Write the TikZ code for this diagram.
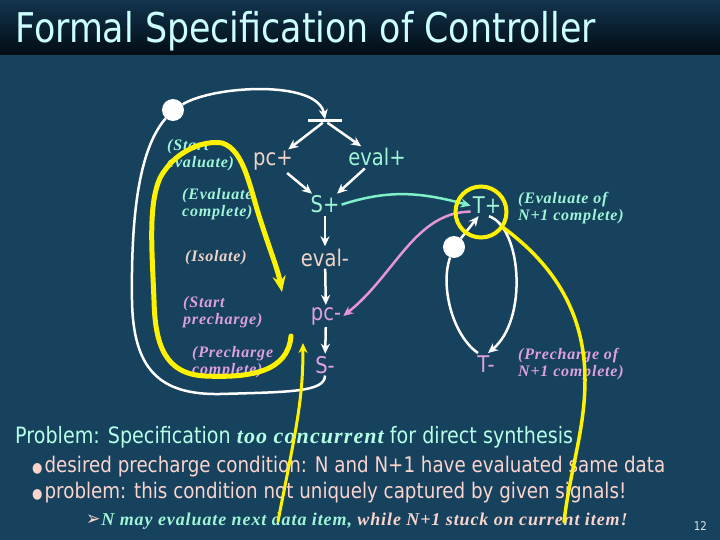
\documentclass[tikz,border=0pt]{standalone}
\usepackage{fontspec}
\setmainfont{Liberation Serif}
\setsansfont[FakeStretch=0.85]{DejaVu Sans}
\newfontfamily\labfont[LetterSpace=5]{Liberation Serif}
\usetikzlibrary{arrows.meta}
\definecolor{fond}{RGB}{22,66,94}
\definecolor{bartop}{RGB}{18,52,78}
\definecolor{barbot}{RGB}{2,12,20}
\definecolor{titletxt}{RGB}{204,255,255}
\definecolor{mint}{RGB}{160,245,215}
\definecolor{beige}{RGB}{240,212,200}
\definecolor{lilac}{RGB}{222,160,222}
\definecolor{cyanline}{RGB}{128,240,200}
\definecolor{pinkline}{RGB}{230,150,210}
\definecolor{probtxt}{RGB}{180,255,230}
\definecolor{rose}{RGB}{250,212,205}
\definecolor{numtxt}{RGB}{220,230,235}
\begin{document}
\begin{tikzpicture}[x=1pt,y=-1pt,
    sig/.style={anchor=base, inner sep=2pt, font=\sffamily\fontsize{23}{23}\selectfont},
    lab/.style={anchor=west, inner sep=0pt, align=left, font=\labfont\bfseries\itshape\fontsize{16}{16.5}\selectfont},
    wire/.style={white, line width=2.5pt},
    arr/.style={wire, -{Stealth[length=10pt,width=9pt]}},
    token/.style={circle, fill=white, inner sep=0pt, minimum size=22pt},
    hilite/.style={yellow, line width=4.5pt, line cap=round},
    txt/.style={anchor=base west, inner sep=0pt}]
  \fill[fond] (0,0) rectangle (720,540);
  \shade[top color=bartop, bottom color=barbot] (0,0) rectangle (720,55);
  \node (title) at (15,43) [txt, text=titletxt, font=\sffamily\fontsize{41}{41}\selectfont] {Formal Specification of Controller};

  \node (bar) at (325,121) [fill=white, minimum width=34pt, minimum height=3pt, inner sep=0pt] {};
  \node (pcp) at (273,166) [sig, text=beige] {pc+};
  \node (evp) at (377,166) [sig, text=mint] {eval+};
  \node (Sp) at (325,213) [sig, text=mint] {S+};
  \node (evm) at (325,266) [sig, text=beige] {eval-};
  \node (pcm) at (326,320) [sig, text=lilac] {pc-};
  \node (Sm) at (325,373) [sig, text=lilac] {S-};
  \node (Tp) at (487,214) [sig, text=mint] {T+};
  \node (Tm) at (486,372) [sig, text=lilac] {T-};
  \node (k1) at (173,110) [token] {};
  \node (k2) at (454,247) [token] {};

  \draw[arr] (bar) -- (pcp);
  \draw[arr] (bar) -- (evp);
  \draw[arr] (pcp) -- (Sp);
  \draw[arr] (evp) -- (Sp);
  \draw[arr] (Sp) -- (evm);
  \draw[arr] (evm) -- (pcm);
  \draw[arr] (pcm) -- (Sm);
  \draw[wire] (Sm.south) .. controls (325,392) and (290,392) .. (220,394)
     .. controls (160,395) and (133,370) .. (132,300)
     .. controls (131,220) and (138,150) .. (k1);
  \draw[arr] (k1) .. controls (215,85) and (318,80) .. (bar.north);
  \draw[cyanline, line width=2.5pt, -{Stealth[length=10pt,width=9pt]}] (Sp.east) to[out=18, in=165] (Tp.west);
  \draw[pinkline, line width=2.5pt, -{Stealth[length=10pt,width=9pt]}] ([yshift=-6pt]Tp.west) .. controls (415,212) and (395,275) .. (pcm.east);
  \draw[arr] ([xshift=2pt]Tp.south) .. controls (522,228) and (528,320) .. ([xshift=2pt]Tm.north);
  \draw[wire] ([xshift=-8pt]Tm.north) .. controls (452,335) and (440,285) .. (k2);
  \draw[arr] (k2) -- (Tp);

  \node (lse) at (167,155) [lab, text=mint] {(Start\\evaluate)};
  \node (lec) at (182,204) [lab, text=mint] {(Evaluate\\complete)};
  \node (liso) at (185,258) [lab, text=beige] {(Isolate)};
  \node (lsp) at (183,312) [lab, text=lilac] {(Start\\precharge)};
  \node (lpc) at (192,362) [lab, text=lilac] {(Precharge\\complete)};
  \node (lte) at (518,208) [lab, text=mint] {(Evaluate of\\N+1 complete)};
  \node (ltp) at (518,364) [lab, text=lilac] {(Precharge of\\N+1 complete)};

  \node (prob) at (15,443) [txt, text=probtxt, font=\sffamily\fontsize{22.5}{22.5}\selectfont] {Problem: Specification {\labfont\bfseries\itshape\fontsize{22}{22}\selectfont too concurrent} for direct synthesis};
  \node (b1) at (32,472) [txt, text=rose, font=\sffamily\fontsize{21.5}{21.5}\selectfont] {{\fontsize{14}{14}\selectfont ●}\hspace{2pt}desired precharge condition: N and N+1 have evaluated same data};
  \node (b2) at (32,498) [txt, text=rose, font=\sffamily\fontsize{21.5}{21.5}\selectfont] {{\fontsize{14}{14}\selectfont ●}\hspace{2pt}problem: this condition not uniquely captured by given signals!};
  \node (sub) at (86,525) [txt, font=\labfont\bfseries\itshape\fontsize{18}{18}\selectfont] {{\sffamily\color{rose}\fontsize{20}{20}\selectfont ➢}\hspace{1pt}{\color{mint}N may evaluate next data item,} {\color{rose}while N+1 stuck on current item!}};
  \node (pg) at (707,530) [anchor=base east, inner sep=0pt, text=numtxt, font=\sffamily\fontsize{12}{12}\selectfont] {12};

  \node (ring) at (481,212) [circle, draw=yellow, line width=4pt, minimum size=51pt] {};
  \coordinate (ye1) at (282,292);
  \coordinate (ys1) at (291,336);
  \draw[hilite, line width=5pt, -{Stealth[length=16pt,width=13pt]}] (ys1) .. controls (288,372) and (250,378) .. (205,376)
     .. controls (165,374) and (155,345) .. (154,300)
     .. controls (152,250) and (148,205) .. (160,178)
     .. controls (175,150) and (205,140) .. (222,143)
     .. controls (245,150) and (250,190) .. (262,225)
     .. controls (270,250) and (278,270) .. (ye1);
  \coordinate (yb1) at (278,521);
  \coordinate (yt1) at (303,343);
  \draw[hilite, line width=3pt, -{Stealth[length=10pt,width=9pt]}] (yb1) .. controls (296,430) and (303,400) .. (yt1);
  \coordinate (yb2) at (564,522);
  \draw[hilite, line width=3.5pt] (ring.-35) .. controls (540,255) and (585,300) .. (585,380)
     .. controls (585,430) and (570,470) .. (yb2);
\end{tikzpicture}
\end{document}
